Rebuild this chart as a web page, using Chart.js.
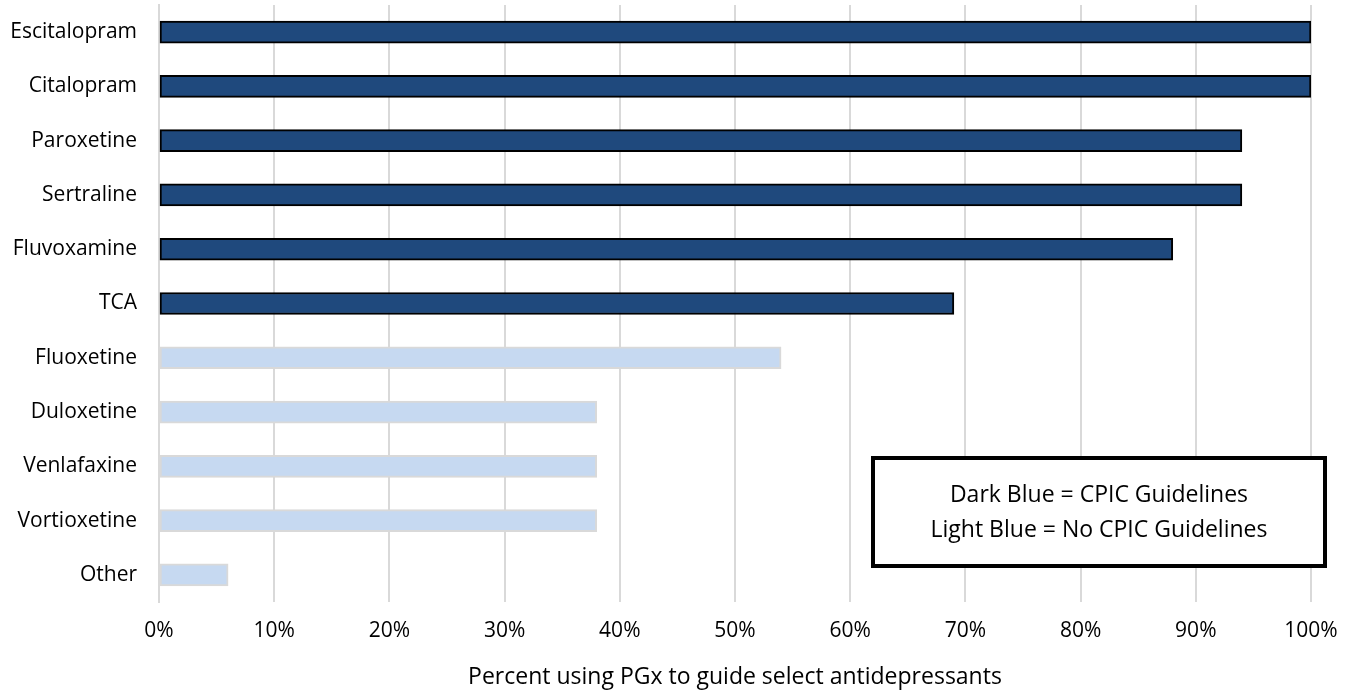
<!DOCTYPE html>
<html>
<head>
<meta charset="utf-8">
<script src="https://cdn.jsdelivr.net/npm/chart.js@4/dist/chart.umd.min.js"></script>
<style>
  html, body { margin: 0; padding: 0; background: #ffffff; }
  #wrap { width: 1354px; height: 691px; position: relative; }
</style>
</head>
<body>
<div id="wrap"><canvas id="c" width="1354" height="691"></canvas></div>
<script>
const categories = ["Escitalopram", "Citalopram", "Paroxetine", "Sertraline", "Fluvoxamine", "TCA",
                    "Fluoxetine", "Duloxetine", "Venlafaxine", "Vortioxetine", "Other"];
const percentValues = [100, 100, 94, 94, 88, 69, 54, 38, 38, 38, 6];
const hasCpicGuidelines = [true, true, true, true, true, true, false, false, false, false, false];
const xTickValues = [0, 10, 20, 30, 40, 50, 60, 70, 80, 90, 100];
const axisTitle = "Percent using PGx to guide select antidepressants";
const noteLines = ["Dark Blue = CPIC Guidelines", "Light Blue = No CPIC Guidelines"];

const DARK = "#1F497D", LIGHT = "#C6D9F1";
const FONT = "'Open Sans', Lato, sans-serif";

const notePlugin = {
  id: "noteBox",
  afterDraw(chart) {
    const ctx = chart.ctx;
    const x0 = 873, y0 = 458, w = 452, h = 108;
    ctx.save();
    ctx.fillStyle = "#ffffff";
    ctx.fillRect(x0, y0, w, h);
    ctx.lineWidth = 4;
    ctx.strokeStyle = "#000000";
    ctx.strokeRect(x0, y0, w, h);
    ctx.fillStyle = "#000000";
    ctx.font = "23px " + FONT;
    ctx.textAlign = "center";
    ctx.textBaseline = "middle";
    ctx.fillText(noteLines[0], x0 + w / 2, y0 + 37);
    ctx.fillText(noteLines[1], x0 + w / 2, y0 + 72);
    ctx.restore();
  }
};

new Chart(document.getElementById("c"), {
  type: "bar",
  data: {
    labels: categories,
    datasets: [{
      data: percentValues,
      backgroundColor: hasCpicGuidelines.map(h => h ? DARK : LIGHT),
      borderColor: hasCpicGuidelines.map(h => h ? "#000000" : "#D9D9D9"),
      borderWidth: 2,
      borderSkipped: false,
      barThickness: 22
    }]
  },
  plugins: [notePlugin],
  options: {
    indexAxis: "y",
    responsive: false,
    animation: false,
    layout: { padding: { top: 5, right: 43, left: 0, bottom: 0 } },
    plugins: { legend: { display: false }, tooltip: { enabled: false } },
    scales: {
      x: {
        min: 0, max: 100,
        afterBuildTicks(scale) { scale.ticks = xTickValues.map(v => ({ value: v })); },
        afterFit(scale) { scale.height = 89; scale.paddingLeft = 0; scale.paddingRight = 0; },
        grid: { color: "#D9D9D9", lineWidth: 2, drawTicks: false },
        border: { display: false },
        ticks: {
          padding: 16,
          color: "#000000",
          font: { family: FONT, size: 21 },
          callback: v => v + "%"
        },
        title: {
          display: true,
          text: axisTitle,
          color: "#000000",
          font: { family: FONT, size: 23 },
          padding: { top: 4, bottom: 0 }
        }
      },
      y: {
        afterFit(scale) { scale.width = 159; scale.paddingTop = 0; scale.paddingBottom = 0; },
        grid: { display: false, drawTicks: false },
        border: { display: true, color: "#D9D9D9", width: 2 },
        ticks: {
          padding: 22,
          color: "#000000",
          font: { family: FONT, size: 21 }
        }
      }
    }
  }
});
</script>
</body>
</html>
